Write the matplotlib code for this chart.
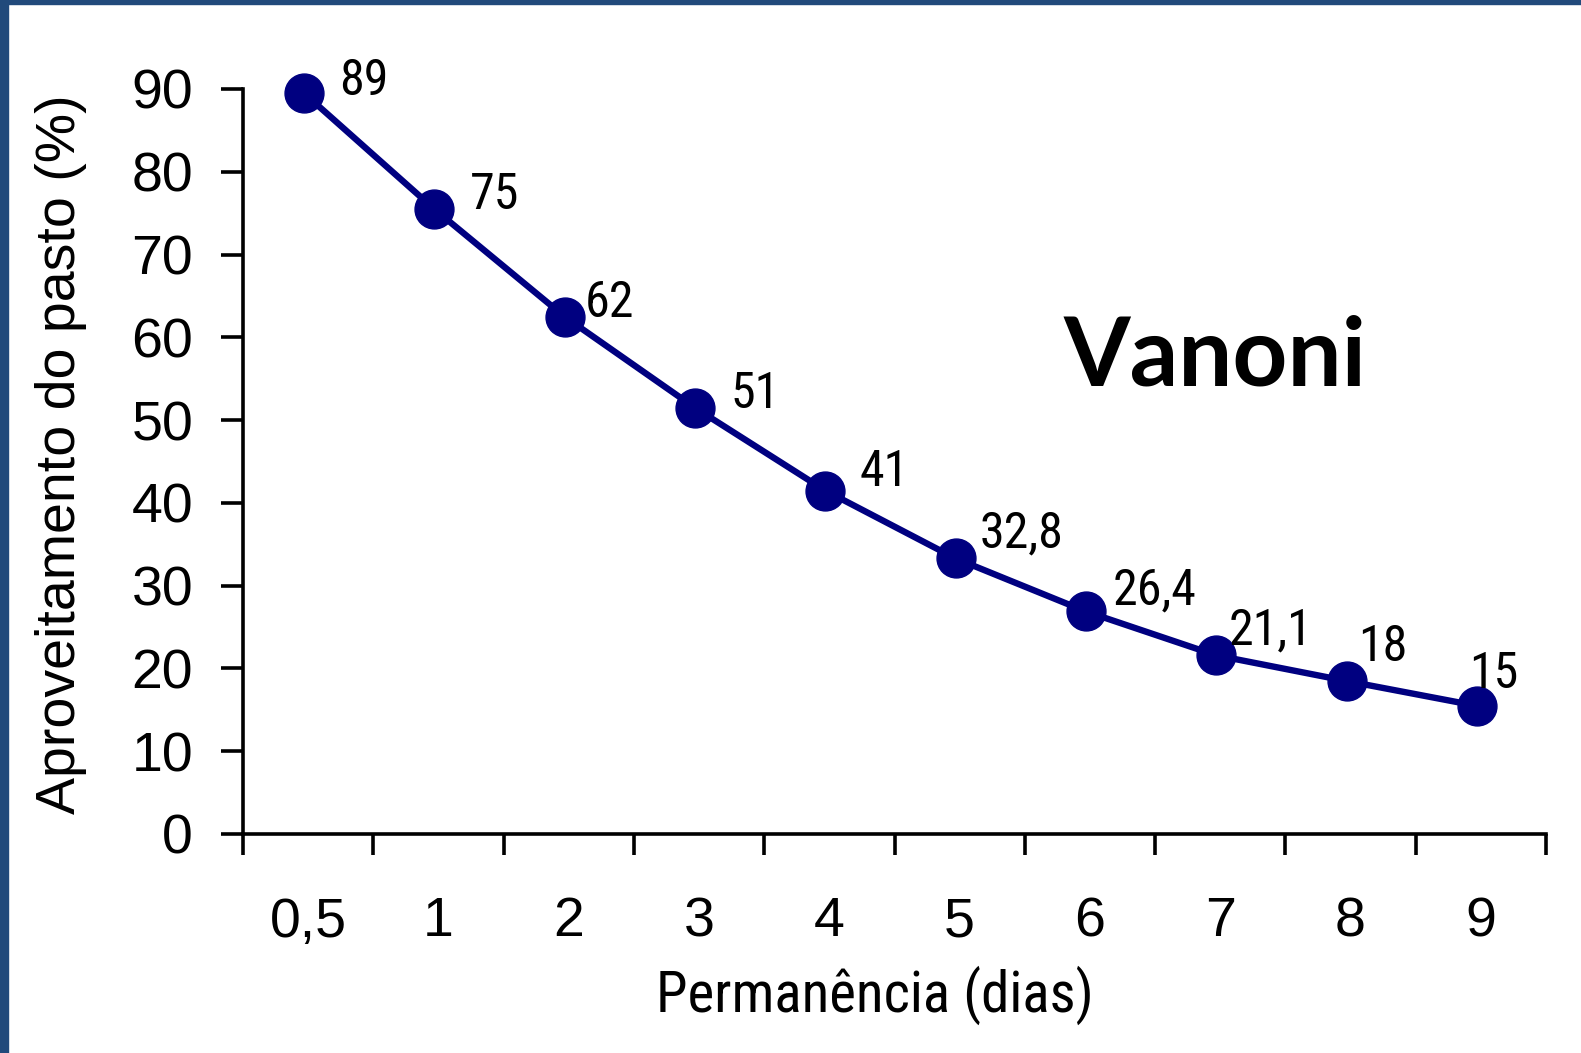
import matplotlib
matplotlib.use("Agg")
import matplotlib.pyplot as plt
import matplotlib.transforms as mtransforms
from matplotlib.patches import Rectangle
from matplotlib import font_manager

# ── data ────────────────────────────────────────────────────────────────
dias = ["0,5", "1", "2", "3", "4", "5", "6", "7", "8", "9"]
aproveitamento = [89, 75, 62, 51, 41, 32.8, 26.4, 21.1, 18, 15]

# label offsets (pixels, from marker centre to label bottom-left)
label_dx = [35, 35, 20, 35, 34, 24, 27, 12, 12, -8]
label_dy = [-2, 0, 0, 0, 5, 11, 7, 11, 20, 18]

NAVY = "#000080"
FRAME = "#214a7b"

names = {f.name for f in font_manager.fontManager.ttflist}
regular = ["Liberation Sans", "DejaVu Sans"]
narrow_found = [n for n in ("Liberation Sans Narrow", "Arial Narrow", "Roboto Condensed")
                if n in names]
if narrow_found:
    narrow = [narrow_found[0], "Liberation Sans"]
    lab_size, xlab_size = 36, 41
else:
    # no condensed face installed: shrink regular text to keep the widths close
    narrow = regular
    lab_size, xlab_size = 33, 37

fig = plt.figure(figsize=(15.81, 10.53), dpi=100)
ax = fig.add_axes([243 / 1581, 1 - 834 / 1053, (1546 - 243) / 1581, (834 - 89) / 1053])

# the source slide draws its markers a few pixels up/left of the exact value
shifted = mtransforms.offset_copy(ax.transData, fig=fig, x=-4, y=4, units="dots")

x = [i + 0.5 for i in range(len(dias))]
ax.plot(x, aproveitamento, color=NAVY, lw=4.6, marker="o", ms=28,
        markerfacecolor=NAVY, markeredgecolor=NAVY, transform=shifted, clip_on=False)

for xi, yi, dx, dy in zip(x, aproveitamento, label_dx, label_dy):
    txt = f"{yi:g}".replace(".", ",")
    ax.annotate(txt, (xi, yi), xycoords=shifted, xytext=(dx, dy),
                textcoords="offset pixels", ha="left", va="baseline",
                fontsize=lab_size, family=narrow, color="black")

ax.set_xlim(0, len(dias))
ax.set_ylim(0, 90)
ax.set_yticks(range(0, 91, 10))
ax.set_yticklabels([str(v) for v in range(0, 91, 10)], family=regular, fontsize=40)

# category boundaries as major ticks, labels at category centres
ax.set_xticks(range(len(dias) + 1))
ax.set_xticklabels([])
ax.set_xticks(x, minor=True)
ax.set_xticklabels(dias, minor=True, family=regular, fontsize=40)
ax.tick_params(axis="x", which="major", direction="out", length=15, width=2.6)
ax.tick_params(axis="x", which="minor", length=0, pad=45)
ax.tick_params(axis="y", direction="out", length=16, width=2.6, pad=20)

for side in ["top", "right"]:
    ax.spines[side].set_visible(False)
for side in ["left", "bottom"]:
    ax.spines[side].set_linewidth(2.6)

fig.text(61 / 1581, 0.569, "Aproveitamento do pasto (%)", rotation=90,
         ha="center", va="center", family=regular, fontsize=40)
fig.text(875 / 1581, 1 - 1012 / 1053, "Permanência (dias)", ha="center",
         va="baseline", family=narrow, fontsize=xlab_size)
fig.text(1064 / 1581, 1 - 385 / 1053, "Vanoni", ha="left", va="baseline",
         family=["Lato", "DejaVu Sans"], fontweight="bold", fontsize=69)

# slide frame (left and top strips)
fig.patches.append(Rectangle((0, 0), 8 / 1581, 1, transform=fig.transFigure,
                             color=FRAME, zorder=10))
fig.patches.append(Rectangle((0, 1 - 4 / 1053), 1, 4 / 1053, transform=fig.transFigure,
                             color=FRAME, zorder=10))

fig.savefig("out.png", dpi=100)
